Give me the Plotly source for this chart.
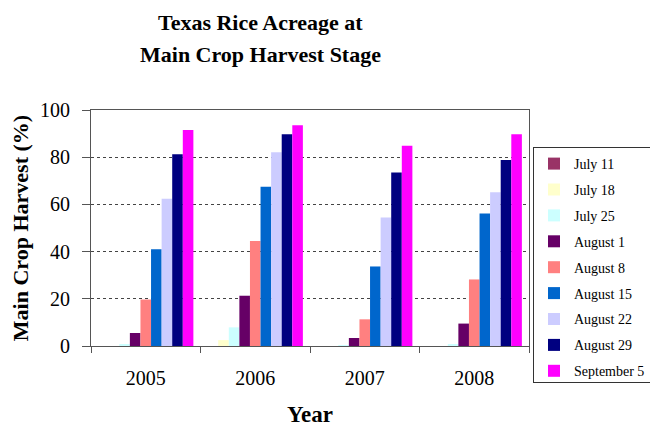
import plotly.graph_objects as go

years = ["2005", "2006", "2007", "2008"]
series_names = ["July 11", "July 18", "July 25", "August 1", "August 8",
                "August 15", "August 22", "August 29", "September 5"]
july_11 = [0, 0, 0, 0]
july_18 = [0, 2.5, 0, 0]
july_25 = [0.6, 7.9, 0.4, 0.6]
august_1 = [5.5, 21.3, 3.4, 9.5]
august_8 = [19.7, 44.5, 11.3, 28.2]
august_15 = [41.0, 67.5, 33.7, 56.1]
august_22 = [62.4, 82.1, 54.5, 65.1]
august_29 = [81.3, 89.7, 73.5, 78.8]
september_5 = [91.5, 93.5, 84.8, 89.7]
series_values = [july_11, july_18, july_25, august_1, august_8,
                 august_15, august_22, august_29, september_5]
colors = ["#993366", "#FFFFCC", "#CCFFFF", "#660066", "#FF8080",
          "#0066CC", "#CCCCFF", "#000080", "#FF00FF"]
y_ticks = [0, 20, 40, 60, 80, 100]

FONT = "Liberation Serif, Times New Roman, serif"

fig = go.Figure()
for name, vals, col in zip(series_names, series_values, colors):
    fig.add_trace(go.Bar(x=years, y=vals, name=name, legendgroup=name,
                         marker=dict(color=col, line=dict(width=0))))

# page has an 8px body margin; figure coordinates = page coordinates - 8
OFF = 8
W, H = 658 - OFF, 427 - OFF
PL, PR, PT, PB = 91, 529, 110, 346          # plot area in page pixels
L, R, T, B = PL - OFF, W - (PR - OFF), PT - OFF, H - (PB - OFF)
PW, PH = W - L - R, H - T - B


def px_x(page_x):
    return (page_x - OFF - L) / PW


def px_y(page_y):
    return (H - B - (page_y - OFF)) / PH


fig.update_layout(
    width=W, height=H,
    margin=dict(l=L, r=R, t=T, b=B, autoexpand=False),
    paper_bgcolor="white", plot_bgcolor="white",
    font=dict(family=FONT, color="black"),
    barmode="group", bargap=0.13, bargroupgap=0,
    showlegend=True,
    legend=dict(x=px_x(533), xanchor="left",
                y=px_y(147), yanchor="top",
                bordercolor="#333333", borderwidth=1, bgcolor="white",
                font=dict(family=FONT, size=14, color="black"),
                tracegroupgap=4.7, traceorder="grouped",
                itemclick=False),
    xaxis=dict(showline=True, linecolor="#555555", linewidth=1, mirror=True,
               ticks="outside", ticklen=6, tickcolor="#555555",
               tickson="boundaries", ticklabelstandoff=14,
               tickfont=dict(family=FONT, size=20, color="black"),
               automargin=True,
               title=dict(text="<b>Year</b>", standoff=20,
                          font=dict(family=FONT, size=23, color="black")),
               showgrid=False),
    yaxis=dict(range=[0, 100], tickvals=y_ticks,
               showline=True, linecolor="#555555", linewidth=1, mirror=True,
               ticks="outside", ticklen=8, tickcolor="#555555",
               ticklabelstandoff=8,
               tickfont=dict(family=FONT, size=20, color="black"),
               showgrid=True, gridcolor="#444444", griddash="dot", gridwidth=1,
               zeroline=False,
               title=dict(text="<b>Main Crop Harvest (%)</b>", standoff=9,
                          font=dict(family=FONT, size=22, color="black"))),
)

title_lines = ["Texas Rice Acreage at", "Main Crop Harvest Stage"]
for i, line in enumerate(title_lines):
    fig.add_annotation(text="<b>" + line + "</b>", xref="paper", yref="paper",
                       x=px_x(260), y=px_y(22 + 33 * i),
                       xanchor="center", yanchor="middle", showarrow=False,
                       font=dict(family=FONT, size=22, color="black"))

fig.write_html("out.html")
